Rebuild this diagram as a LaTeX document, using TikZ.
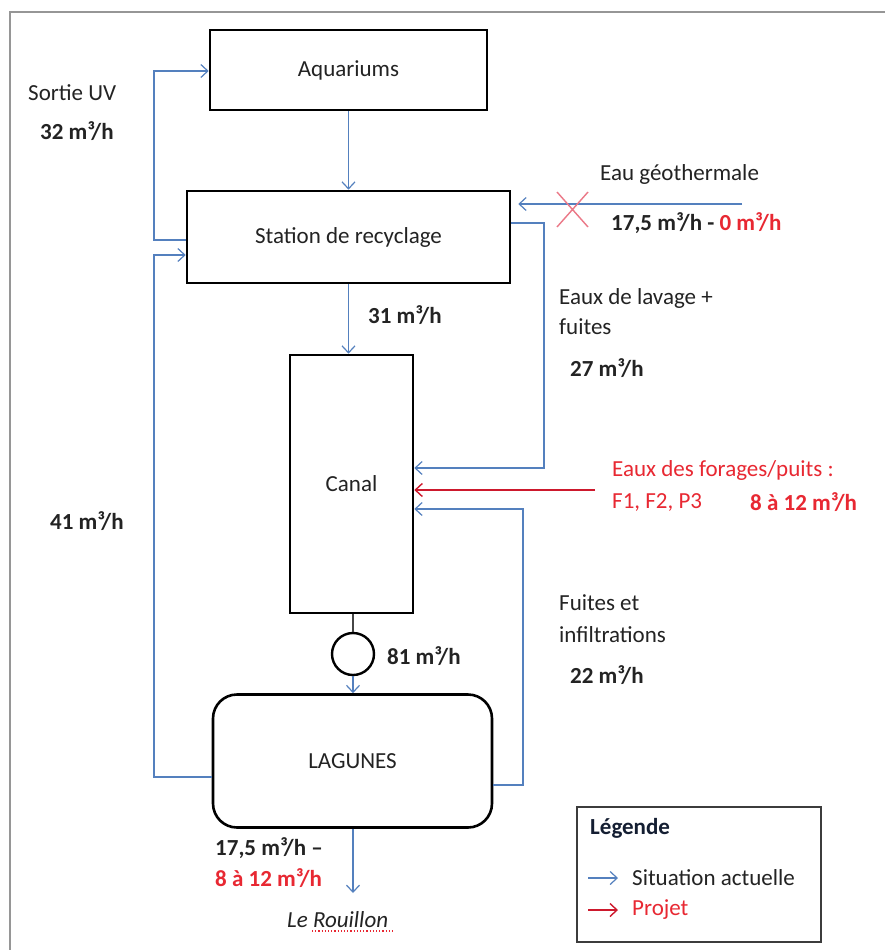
\documentclass[tikz,border=0pt]{standalone}
\usepackage{fontspec}
\setmainfont{Carlito}
\usetikzlibrary{arrows.meta,positioning,calc}
\definecolor{cblue}{RGB}{84,128,190}
\definecolor{cred}{RGB}{205,25,45}
\definecolor{tred}{RGB}{232,40,50}
\definecolor{txt}{RGB}{35,35,35}
\definecolor{xred}{RGB}{235,120,135}
\tikzset{
  box/.style={draw=black,line width=2.6pt,fill=white,text=txt,font=\fontsize{23}{28}\selectfont,inner sep=0pt},
  lbl/.style={anchor=west,inner sep=0pt,text=txt,font=\fontsize{23}{28}\selectfont},
  blbl/.style={lbl,font=\fontsize{23}{28}\selectfont\bfseries},
  flow/.style={draw=cblue,line width=1.3pt},
  arr/.style={flow,-{Straight Barb[length=7pt,width=13pt,line width=1.2pt]}},
  rarr/.style={draw=cred,line width=1.8pt,-{Straight Barb[length=7pt,width=13pt,line width=1.4pt]}}
}
\begin{document}
\begin{tikzpicture}[x=1pt,y=-1pt]
\useasboundingbox (0,0) rectangle (885,950);
\fill[white] (0,0) rectangle (885,950);
% outer frame
\draw[draw={rgb,255:red,150;green,150;blue,150},line width=2.5pt] (10,950) -- (10,12) -- (885,12);

% boxes
\node[box,minimum width=277pt,minimum height=80pt] (aqua) at (348.5,70) {Aquariums};
\node[box,minimum width=323pt,minimum height=92pt] (station) at (348.5,237) {Station de recyclage};
\node[box,minimum width=123pt,minimum height=258pt] (canal) at (351.5,484) {Canal};
\node[draw=black,line width=2.4pt,circle,minimum size=42pt,inner sep=0pt] (pump) at (353,654) {};
\node[box,rounded corners=24pt,minimum width=279pt,minimum height=133pt] (lag) at (352.5,761) {LAGUNES};

% helper coordinates
\coordinate (uvA) at (154,71);
\coordinate (uvB) at (154,240);
\coordinate (lgA) at (154,777);
\coordinate (lgB) at (154,255);
\coordinate (lvA) at (544,223);
\coordinate (lvB) at (544,468);
\coordinate (fiA) at (523,785);
\coordinate (fiB) at (523,509);
\coordinate (geo) at (742,204);
\coordinate (forage) at (595,490);
\coordinate (outlet) at (353,893);

% connectors
\draw[arr] (aqua.south) -- (station.north);
\draw[arr] (station.south) -- (station.south |- canal.north);
\draw[arr] (station.west |- uvB) -- (uvB) -- (uvA) -- (aqua.west |- uvA);
\draw[arr] (lag.west |- lgA) -- (lgA) -- (lgB) -- (station.west |- lgB);
\draw[arr] (station.east |- lvA) -- (lvA) -- (lvB) -- (canal.east |- lvB);
\draw[arr] (lag.east |- fiA) -- (fiA) -- (fiB) -- (canal.east |- fiB);
\draw[rarr] (forage) -- (canal.east |- forage);
\draw[arr,shorten >=7pt] (geo) -- (station.east |- geo);
\draw[draw={rgb,255:red,70;green,70;blue,70},line width=1.3pt] (canal.south -| pump.north) -- (pump.north);
\draw[arr] (pump.south) -- (pump.south |- lag.north);
\draw[arr] (lag.south -| outlet) -- (outlet);

% red cross on geothermal line
\draw[xred,line width=1.4pt] (557,192) -- (588,227) (557,227) -- (588,192);

% labels
\node[lbl] (l1) at (28,93) {Sortie UV};
\node[blbl] (l2) at (40,131) {32 m³/h};
\node[lbl] (l3) at (600,174) {Eau géothermale};
\node[blbl] (l4) at (611,223) {17,5 m³/h - \textcolor{tred}{0 m³/h}};
\node[blbl] (l5) at (368,315) {31 m³/h};
\node[lbl,align=left,font=\fontsize{23}{30}\selectfont] (l6) at (559,312) {Eaux de lavage +\\fuites};
\node[blbl] (l7) at (570,368) {27 m³/h};
\node[lbl,text=tred,align=left,font=\fontsize{23}{32}\selectfont] (l8) at (612,486) {Eaux des forages/puits :\\F1, F2, P3};
\node[blbl,text=tred] (l9) at (750,502) {8 à 12 m³/h};
\node[blbl] (l10) at (50,521) {41 m³/h};
\node[blbl] (l11) at (387,656) {81 m³/h};
\node[lbl,align=left,font=\fontsize{23}{32}\selectfont] (l12) at (559,619) {Fuites et\\infiltrations};
\node[blbl] (l13) at (570,675) {22 m³/h};
\node[blbl] (l14) at (215,848) {17,5 m³/h –};
\node[blbl,text=tred] (l15) at (215,878) {8 à 12 m³/h};
\node[lbl,font=\fontsize{23}{28}\selectfont\itshape] (l16) at (287,920) {Le Rouillon};
\draw[tred,line width=1.2pt,dotted] (312,931) -- (393,931);

% legend
\node[draw={rgb,255:red,60;green,60;blue,60},line width=1.6pt,minimum width=244pt,minimum height=135pt,inner sep=0pt] (legend) at (699,874.5) {};
\node[blbl,font=\fontsize{23}{28}\selectfont\bfseries,text={rgb,255:red,20;green,30;blue,50}] (lg1) at (590,828) {Légende};
\coordinate (la1) at (588,878);
\coordinate (la2) at (618,878);
\coordinate (lb1) at (588,910);
\coordinate (lb2) at (618,910);
\draw[arr] (la1) -- (la2);
\draw[rarr] (lb1) -- (lb2);
\node[lbl] (lg2) at (632,878) {Situation actuelle};
\node[lbl,text=tred] (lg3) at (632,910) {Projet};
\end{tikzpicture}
\end{document}
